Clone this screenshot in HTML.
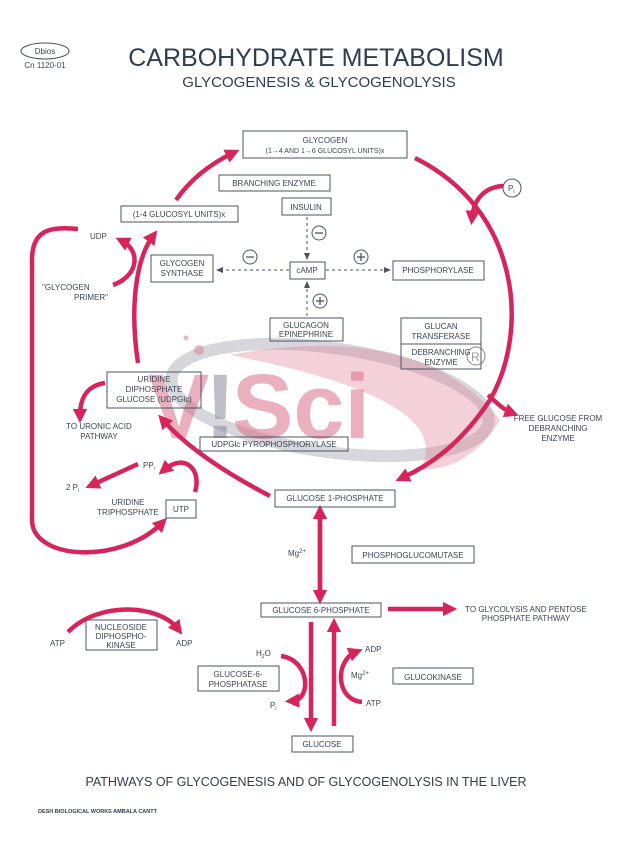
<!DOCTYPE html>
<html><head><meta charset="utf-8"><style>
html,body{margin:0;padding:0;background:#fff;}
svg{display:block;font-family:"Liberation Sans",sans-serif;}
.t{fill:#3a4654;font-size:8px;}
.b{fill:none;stroke:#4a5560;stroke-width:1;}
.a{fill:none;stroke:#d6255b;stroke-width:4.5;}
.d{fill:none;stroke:#4a5560;stroke-width:1;stroke-dasharray:3,3;}
</style></head><body>
<svg width="628" height="849" viewBox="0 0 628 849" xmlns="http://www.w3.org/2000/svg">
<defs>
<marker id="m" markerWidth="3.2" markerHeight="3.2" refX="1.6" refY="1.6" orient="auto" markerUnits="strokeWidth"><path d="M0,0 L3.2,1.6 L0,3.2 Z" fill="#d6255b"/></marker>
<marker id="s" markerWidth="8" markerHeight="8" refX="6" refY="4" orient="auto" markerUnits="userSpaceOnUse"><path d="M0,1 L7,4 L0,7 Z" fill="#4a5560"/></marker>
</defs>
<rect width="628" height="849" fill="#fff"/>

<!-- watermark -->
<ellipse cx="330" cy="400" rx="160" ry="52" fill="none" stroke="#8a8a9a" stroke-width="12" opacity="0.35" transform="rotate(8 330 400)"/>
<path d="M230,355 Q420,320 500,420 Q470,470 420,470 Q460,400 230,355Z" fill="#e07a8e" opacity="0.35"/>
<text x="148" y="438" font-size="92" font-weight="bold" fill="#d97088" opacity="0.55">V</text>
<text x="205" y="438" font-size="92" font-weight="bold" fill="#8a8c9c" opacity="0.55">!</text>
<text x="232" y="438" font-size="92" font-weight="bold" fill="#d97088" opacity="0.55">Sci</text>
<circle cx="199" cy="350" r="5" fill="#d98a9a" opacity="0.6"/>
<circle cx="186" cy="338" r="2.5" fill="#d98a9a" opacity="0.6"/>
<circle cx="476" cy="356" r="9" fill="none" stroke="#999" stroke-width="1.2"/>
<text x="471" y="361" font-size="12" fill="#999">R</text>

<!-- header -->
<ellipse cx="45" cy="51" rx="24" ry="8" class="b"/>
<text x="45" y="54" class="t" text-anchor="middle" font-size="9">Dbios</text>
<text x="45" y="68" class="t" text-anchor="middle" font-size="5.5">Cn 1120-01</text>
<text x="316" y="66" text-anchor="middle" font-size="25" fill="#2f3e4e">CARBOHYDRATE METABOLISM</text>
<text x="319" y="87" text-anchor="middle" font-size="15" fill="#2f3e4e">GLYCOGENESIS &amp; GLYCOGENOLYSIS</text>

<!-- arrows -->
<path class="a" d="M415,158 C520,210 530,330 490,400 C460,445 430,465 402,478" marker-end="url(#m)"/>
<path class="a" d="M505,186 C488,186 474,196 472,218" marker-end="url(#m)"/>
<circle cx="512" cy="188" r="9" fill="#fff" stroke="#4a5560"/>
<text x="508" y="191" class="t">P<tspan font-size="5" dy="2">i</tspan></text>
<path class="a" d="M488,395 C498,404 504,410 512,413" marker-end="url(#m)"/>
<path class="a" d="M270,496 C220,470 185,445 163,420" marker-end="url(#m)"/>
<path class="a" d="M138,363 C130,310 135,260 153,236" marker-end="url(#m)"/>
<path class="a" d="M176,200 C190,180 208,165 233,153" marker-end="url(#m)"/>
<path class="a" d="M113,285 C140,275 140,250 122,241" marker-end="url(#m)"/>
<path class="a" d="M78,229 C50,226 32,230 32,260 L32,520 C32,560 120,565 162,523" marker-end="url(#m)"/>
<path class="a" d="M105,383 C85,386 80,400 80,416" marker-end="url(#m)"/>
<path class="a" d="M138,464 L92,485" marker-end="url(#m)"/>
<path class="a" d="M195,492 C202,470 185,452 164,470" marker-end="url(#m)"/>
<path class="a" d="M320,597 L320,512" marker-end="url(#m)"/>
<path class="a" d="M320,512 L320,597" marker-end="url(#m)"/>
<path class="a" d="M388,609 L450,609" marker-end="url(#m)"/>
<path class="a" d="M311,622 L311,725" marker-end="url(#m)"/>
<path class="a" d="M334,726 L334,625" marker-end="url(#m)"/>
<path class="a" d="M281,656 C310,660 312,700 292,701" marker-end="url(#m)"/>
<path class="a" d="M362,702 C335,700 335,660 356,652" marker-end="url(#m)"/>
<path class="a" d="M68,632 C100,600 160,605 178,629" marker-end="url(#m)"/>

<!-- dashed regulation -->
<line class="d" x1="307" y1="217" x2="307" y2="259" marker-end="url(#s)"/>
<line class="d" x1="307" y1="316" x2="307" y2="282" marker-end="url(#s)"/>
<line class="d" x1="289" y1="270" x2="217" y2="270" marker-end="url(#s)"/>
<line class="d" x1="326" y1="270" x2="390" y2="270" marker-end="url(#s)"/>
<g fill="#fff" stroke="#4a5560">
<circle cx="250" cy="257" r="7"/><circle cx="319" cy="233" r="7"/>
<circle cx="361" cy="257" r="7"/><circle cx="320" cy="301" r="7"/></g>
<g stroke="#4a5560" stroke-width="1.3">
<line x1="246" y1="257" x2="254" y2="257"/><line x1="315" y1="233" x2="323" y2="233"/>
<line x1="357" y1="257" x2="365" y2="257"/><line x1="361" y1="253" x2="361" y2="261"/>
<line x1="316" y1="301" x2="324" y2="301"/><line x1="320" y1="297" x2="320" y2="305"/></g>

<!-- boxes -->
<rect class="b" x="243" y="131" width="164" height="27" fill="#fff"/>
<rect class="b" x="219" y="175" width="111" height="16" fill="#fff"/>
<rect class="b" x="282" y="198" width="49" height="17" fill="#fff"/>
<rect class="b" x="121" y="206" width="117" height="16" fill="#fff"/>
<rect class="b" x="151" y="255" width="62" height="27" fill="#fff"/>
<rect class="b" x="290" y="262" width="35" height="17" fill="#fff"/>
<rect class="b" x="393" y="261" width="91" height="19" fill="#fff"/>
<rect class="b" x="270" y="318" width="73" height="23" fill="#fff"/>
<rect class="b" x="401" y="318" width="80" height="26" fill="#fff"/>
<rect class="b" x="401" y="344" width="80" height="25"/>
<rect class="b" x="107" y="372" width="94" height="36"/>
<rect class="b" x="200" y="437" width="148" height="14"/>
<rect class="b" x="166" y="500" width="30" height="18" fill="#fff"/>
<rect class="b" x="275" y="490" width="120" height="17" fill="#fff"/>
<rect class="b" x="352" y="546" width="122" height="17" fill="#fff"/>
<rect class="b" x="261" y="603" width="120" height="14" fill="#fff"/>
<rect class="b" x="86" y="620" width="71" height="30" fill="#fff"/>
<rect class="b" x="198" y="666" width="81" height="25" fill="#fff"/>
<rect class="b" x="393" y="668" width="80" height="16" fill="#fff"/>
<rect class="b" x="292" y="736" width="61" height="16" fill="#fff"/>

<!-- texts -->
<g class="t" text-anchor="middle">
<text x="325" y="143">GLYCOGEN</text>
<text x="325" y="153" font-size="7">(1→4 AND 1→6 GLUCOSYL UNITS)x</text>
<text x="274" y="186">BRANCHING ENZYME</text>
<text x="306" y="210">INSULIN</text>
<text x="179" y="217">(1-4 GLUCOSYL UNITS)x</text>
<text x="182" y="266">GLYCOGEN</text><text x="182" y="276">SYNTHASE</text>
<text x="307" y="273">cAMP</text>
<text x="438" y="273">PHOSPHORYLASE</text>
<text x="306" y="328">GLUCAGON</text><text x="306" y="337">EPINEPHRINE</text>
<text x="441" y="329">GLUCAN</text><text x="441" y="339">TRANSFERASE</text>
<text x="441" y="355">DEBRANCHING</text><text x="441" y="365">ENZYME</text>
<text x="154" y="382">URIDINE</text><text x="154" y="392">DIPHOSPHATE</text><text x="154" y="402">GLUCOSE (UDPGlc)</text>
<text x="99" y="429">TO URONIC ACID</text><text x="99" y="439">PATHWAY</text>
<text x="274" y="447">UDPGlc PYROPHOSPHORYLASE</text>
<text x="558" y="421">FREE GLUCOSE FROM</text><text x="558" y="431">DEBRANCHING</text><text x="558" y="441">ENZYME</text>
<text x="128" y="505">URIDINE</text><text x="128" y="515">TRIPHOSPHATE</text>
<text x="181" y="512">UTP</text>
<text x="335" y="501">GLUCOSE 1-PHOSPHATE</text>
<text x="413" y="558">PHOSPHOGLUCOMUTASE</text>
<text x="321" y="613">GLUCOSE 6-PHOSPHATE</text>
<text x="526" y="612">TO GLYCOLYSIS AND PENTOSE</text><text x="526" y="621">PHOSPHATE PATHWAY</text>
<text x="121" y="630">NUCLEOSIDE</text><text x="121" y="639">DIPHOSPHO-</text><text x="121" y="648">KINASE</text>
<text x="238" y="677">GLUCOSE-6-</text><text x="238" y="687">PHOSPHATASE</text>
<text x="433" y="680">GLUCOKINASE</text>
<text x="322" y="747">GLUCOSE</text>
</g>
<g class="t">
<text x="90" y="239">UDP</text>
<text x="42" y="290">"GLYCOGEN</text><text x="74" y="300">PRIMER"</text>
<text x="143" y="468">PP<tspan font-size="5" dy="2">i</tspan></text>
<text x="66" y="490">2 P<tspan font-size="5" dy="2">i</tspan></text>
<text x="288" y="556">Mg<tspan font-size="6" dy="-3">2+</tspan></text>
<text x="50" y="646">ATP</text><text x="176" y="646">ADP</text>
<text x="256" y="656">H<tspan font-size="5" dy="2">2</tspan><tspan dy="-2">O</tspan></text>
<text x="270" y="708">P<tspan font-size="5" dy="2">i</tspan></text>
<text x="351" y="678">Mg<tspan font-size="6" dy="-3">2+</tspan></text>
<text x="365" y="652">ADP</text><text x="366" y="706">ATP</text>
</g>
<text x="306" y="786" text-anchor="middle" font-size="12.5" fill="#2f3e4e">PATHWAYS OF GLYCOGENESIS AND OF GLYCOGENOLYSIS IN THE LIVER</text>
<text x="38" y="813" font-size="5.5" fill="#2f3e4e" font-weight="bold">DESH BIOLOGICAL WORKS AMBALA CANTT</text>
</svg>
</body></html>
